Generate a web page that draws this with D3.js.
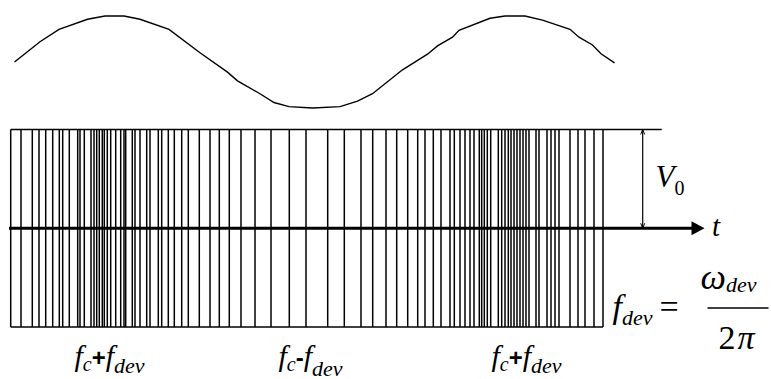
<!DOCTYPE html>
<html><head><meta charset="utf-8">
<script src="https://cdn.jsdelivr.net/npm/d3@7"></script>
<style>html,body{margin:0;padding:0;background:#fff;}svg{display:block;}</style>
</head><body>
<svg id="chart" width="771" height="379"></svg>
<script>
// ---- data (time in arbitrary units, amplitude normalised) ----
const modTime = [0,25.5,44.5,73,90.5,109.5,125.5,154.5,185.5,213,223,245.5,259.5,274.5,298,325.5,343,358,388,413,423,438,444.5,475.5,490.5,510.5,528,555.5,564.5,578,586.5,600];
const modAmp  = [0,0.44,0.71,0.93,1,1,0.93,0.71,0.2,-0.22,-0.41,-0.69,-0.88,-0.97,-1,-0.97,-0.85,-0.69,-0.17,0.17,0.35,0.54,0.69,0.95,1,1,0.91,0.71,0.54,0.37,0.18,-0.02];
const carrierTimes = [-3.8,6.5,17.8,24.5,31.2,38.2,44.8,48.2,54.8,63.2,65.5,69.8,76.5,79.5,82.2,84.8,87.8,89.8,92.8,96.2,101.2,106.2,109.5,111.2,117.8,120.5,125.5,132.2,135.5,143.8,147.2,153.8,159.8,167.2,173.8,184.8,195.5,204.8,214.8,226.5,240.5,256.5,274.8,291.5,313.2,329.8,346.5,358.2,371.5,382.2,393.2,403.2,410.5,418.8,426.5,435.5,439.8,445.5,450.5,455.5,459.5,464.8,467.2,469.8,472.8,476.2,483.8,487.2,490.5,493.8,496.5,499.5,502.5,505.5,508.5,511.5,514.5,521.5,524.5,532.5,536.5,540.5,544.5,555.5,563.5,570.5,579.5,588.5];
const carrierAmp = [-1, 1];
const bottomLabels = [
  {t: 95,  sign: "+", sub: 7},
  {t: 296, sign: "-", sub: 10},
  {t: 512, sign: "+", sub: 7}
];

const SERIF = "Liberation Serif";
const SANS = "Liberation Sans";
const svg = d3.select("#chart");

const x = d3.scaleLinear().domain([0, 600]).range([14.5, 614.5]);
const yMod = d3.scaleLinear().domain([-1, 1]).range([108, 16]);
const yCar = d3.scaleLinear().domain([-1, 1]).range([327, 129.5]);

// modulating sine
const modData = modTime.map((t, i) => [t, modAmp[i]]);
svg.append("path")
  .datum(modData)
  .attr("fill", "none").attr("stroke", "#000").attr("stroke-width", 1.4)
  .attr("d", d3.line().x(d => x(d[0])).y(d => yMod(d[1])));

// carrier lines
svg.append("g").selectAll("line").data(carrierTimes).join("line")
  .attr("x1", d => x(d)).attr("x2", d => x(d))
  .attr("y1", yCar(carrierAmp[1])).attr("y2", yCar(carrierAmp[0]))
  .attr("stroke", "#000").attr("stroke-width", 1.5);

const tFirst = d3.min(carrierTimes), tLast = d3.max(carrierTimes);
// top & bottom envelope lines
svg.append("line").attr("x1", x(tFirst)).attr("x2", x(647.2))
  .attr("y1", yCar(1)).attr("y2", yCar(1)).attr("stroke", "#000").attr("stroke-width", 1.5);
svg.append("line").attr("x1", x(tFirst)).attr("x2", x(tLast))
  .attr("y1", yCar(-1)).attr("y2", yCar(-1)).attr("stroke", "#000").attr("stroke-width", 1.5);

// time axis with arrow
const y0 = yCar(0);
svg.append("line").attr("x1", x(-5.5)).attr("x2", x(680)).attr("y1", y0).attr("y2", y0)
  .attr("stroke", "#000").attr("stroke-width", 3);
svg.append("path")
  .attr("d", `M${x(677)},${y0-7}L${x(690)},${y0}L${x(677)},${y0+7}Z`).attr("fill", "#000");
svg.append("text").attr("font-family", SERIF).attr("x", x(697.5)).attr("y", y0 + 8)
  .attr("font-style", "italic").attr("font-size", 29).text("t");

// V0 double arrow
const xv = x(628.2);
svg.append("line").attr("x1", xv).attr("x2", xv).attr("y1", yCar(1)).attr("y2", y0)
  .attr("stroke", "#000").attr("stroke-width", 1.2);
svg.append("path").attr("d", `M${xv-2},${yCar(1)+5}L${xv},${yCar(1)}L${xv+2},${yCar(1)+5}`)
  .attr("fill", "none").attr("stroke", "#000").attr("stroke-width", 1);
svg.append("path").attr("d", `M${xv-2},${y0-5}L${xv},${y0}L${xv+2},${y0-5}`)
  .attr("fill", "none").attr("stroke", "#000").attr("stroke-width", 1);
const v0 = svg.append("text").attr("font-family", SERIF).attr("x", x(641)).attr("y", yCar(0.42))
  .attr("font-size", 31);
v0.append("tspan").attr("font-style", "italic").text("V");
v0.append("tspan").attr("font-size", 20).attr("dx", 0).attr("dy", 8).text("0");

// bottom labels
bottomLabels.forEach(l => {
  const tx = svg.append("text").attr("font-family", SERIF).attr("x", x(l.t)).attr("y", 366)
    .attr("font-size", 30).attr("text-anchor", "middle");
  tx.append("tspan").attr("font-style", "italic").text("f");
  tx.append("tspan").attr("font-style", "italic").attr("font-size", 20).attr("dy", 5).text("c");
  tx.append("tspan").attr("font-family", SANS).attr("font-weight", "bold")
    .attr("font-size", 24).attr("dy", -5).text(l.sign);
  tx.append("tspan").attr("font-style", "italic").text("f");
  tx.append("tspan").attr("font-style", "italic").attr("font-size", 22).attr("dy", l.sub).text("dev");
});

// formula f_dev = ω_dev / 2π
const fx = svg.append("text").attr("font-family", SERIF).attr("x", x(598)).attr("y", 318)
  .attr("font-size", 34);
fx.append("tspan").attr("font-style", "italic").text("f");
fx.append("tspan").attr("font-style", "italic").attr("font-size", 22).attr("dy", 7).text("dev");
fx.append("tspan").attr("dy", -7).attr("dx", 7).text("=");
const barY = 308;
svg.append("line").attr("x1", x(693)).attr("x2", x(754)).attr("y1", barY).attr("y2", barY)
  .attr("stroke", "#000").attr("stroke-width", 1.4);
const num = svg.append("text").attr("font-family", SERIF).attr("x", x(686)).attr("y", 289)
  .attr("font-size", 36);
num.append("tspan").attr("font-style", "italic").text("ω");
num.append("tspan").attr("font-style", "italic").attr("font-size", 22).attr("dy", 3).text("dev");
const den = svg.append("text").attr("font-family", SERIF).attr("x", x(704)).attr("y", 349)
  .attr("font-size", 34);
den.append("tspan").text("2");
den.append("tspan").attr("font-style", "italic").attr("dx", 2).text("π");
</script>
</body></html>
